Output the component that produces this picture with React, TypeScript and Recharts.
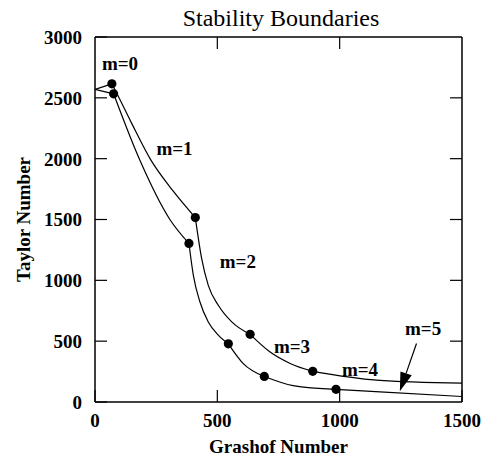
import React from "react";
import { ComposedChart, Line, Scatter, XAxis, YAxis, ReferenceLine } from "recharts";

const xTicks = [0, 500, 1000, 1500];
const yTicks = [0, 500, 1000, 1500, 2000, 2500, 3000];
const frameXTicks = [500, 1000];
const frameYTicks = [500, 1000, 1500, 2000, 2500];

// upper stability boundary
const upperBoundary = [
  { x: 0, y: 2570 }, { x: 69, y: 2615 }, { x: 91, y: 2530 }, { x: 150, y: 2290 },
  { x: 228, y: 1990 }, { x: 319, y: 1735 }, { x: 410, y: 1516 }, { x: 436, y: 1178 },
  { x: 463, y: 959 }, { x: 504, y: 795 }, { x: 559, y: 658 }, { x: 634, y: 556 },
  { x: 713, y: 415 }, { x: 800, y: 315 }, { x: 890, y: 252 }, { x: 1150, y: 180 },
  { x: 1500, y: 155 },
];
const upperDots = [
  { x: 69, y: 2615 }, { x: 410, y: 1516 }, { x: 634, y: 556 }, { x: 890, y: 252 },
];

// lower stability boundary
const lowerBoundary = [
  { x: 0, y: 2570 }, { x: 76, y: 2533 }, { x: 184, y: 1984 }, { x: 306, y: 1500 },
  { x: 384, y: 1303 }, { x: 402, y: 1041 }, { x: 429, y: 822 }, { x: 463, y: 658 },
  { x: 504, y: 549 }, { x: 545, y: 478 }, { x: 605, y: 318 }, { x: 692, y: 210 },
  { x: 810, y: 135 }, { x: 985, y: 104 }, { x: 1165, y: 84 }, { x: 1500, y: 45 },
];
const lowerDots = [
  { x: 76, y: 2533 }, { x: 384, y: 1303 }, { x: 545, y: 478 }, { x: 692, y: 210 }, { x: 985, y: 104 },
];

const modeLabels = [
  { x: 102, y: 2787, text: "m=0" },
  { x: 325, y: 2085, text: "m=1" },
  { x: 584, y: 1160, text: "m=2" },
  { x: 805, y: 459, text: "m=3" },
  { x: 1083, y: 270, text: "m=4" },
  { x: 1341, y: 610, text: "m=5" },
];

const arrowSegment = [{ x: 1314, y: 481 }, { x: 1246, y: 88 }];

const FONT = "'Liberation Serif', 'Times New Roman', serif";
const TICK_LEN = 12;
const GAP = 13;
const GAP_X = 12;

// break a boundary into one piece per mode, at the marked points
function splitAtDots(curve: { x: number; y: number }[], dots: { x: number }[]) {
  const stops = new Set(dots.map((d) => d.x));
  const parts: { x: number; y: number }[][] = [];
  let cur: { x: number; y: number }[] = [];
  curve.forEach((p) => {
    cur.push(p);
    if (stops.has(p.x) && cur.length > 1) {
      parts.push(cur);
      cur = [p];
    }
  });
  if (cur.length > 1) parts.push(cur);
  return parts;
}

const LeftTick = ({ x, y, payload }: any) => (
  <g>
    <line x1={x + GAP} x2={x + GAP + TICK_LEN} y1={y} y2={y} stroke="#000" strokeWidth={1.2} />
    <text x={x} y={y} dy="0.36em" textAnchor="end" fontFamily={FONT} fontWeight="bold" fontSize={19} fill="#000">
      {payload.value}
    </text>
  </g>
);

const BottomTick = ({ x, y, payload }: any) => (
  <g>
    <line x1={x} x2={x} y1={y - GAP_X} y2={y - GAP_X - TICK_LEN} stroke="#000" strokeWidth={1.2} />
    <text x={x} y={y} dy="0.71em" textAnchor="middle" fontFamily={FONT} fontWeight="bold" fontSize={19} fill="#000">
      {payload.value}
    </text>
  </g>
);

const TopTick = ({ x, y }: any) => (
  <line x1={x} x2={x} y1={y} y2={y + TICK_LEN} stroke="#000" strokeWidth={1.2} />
);

const RightTick = ({ x, y }: any) => (
  <line x1={x} x2={x - TICK_LEN} y1={y} y2={y} stroke="#000" strokeWidth={1.2} />
);

const Arrow = ({ x1, y1, x2, y2 }: any) => {
  const dx = x2 - x1;
  const dy = y2 - y1;
  const len = Math.sqrt(dx * dx + dy * dy) || 1;
  const ux = dx / len;
  const uy = dy / len;
  const bx = x2 - ux * 19;
  const by = y2 - uy * 19;
  const nx = -uy * 6;
  const ny = ux * 6;
  return (
    <g>
      <line x1={x1} y1={y1} x2={bx} y2={by} stroke="#000" strokeWidth={1.2} />
      <polygon points={`${x2},${y2} ${bx + nx},${by + ny} ${bx - nx},${by - ny}`} fill="#000" />
    </g>
  );
};

export default function App() {
  const upperParts = splitAtDots(upperBoundary, upperDots);
  const lowerParts = splitAtDots(lowerBoundary, lowerDots);

  return (
    <div style={{ position: "absolute", left: 0, top: 0, width: 492, height: 458, background: "#fff" }}>
      <svg width={492} height={32} style={{ position: "absolute", left: 0, top: 0 }}>
        <text x={281} y={26} textAnchor="middle" fontFamily={FONT} fontSize={24} fill="#000">
          Stability Boundaries
        </text>
      </svg>
      <ComposedChart width={492} height={458} margin={{ top: 36, right: 29, bottom: 0, left: 0 }}>
        <XAxis
          dataKey="x"
          type="number"
          domain={[0, 1500]}
          ticks={xTicks}
          interval={0}
          allowDataOverflow
          height={56}
          tickSize={0}
          tickMargin={GAP_X}
          tickLine={false}
          axisLine={{ stroke: "#000", strokeWidth: 1.5 }}
          tick={BottomTick}
          label={(props: any) => {
            const vb = props.viewBox;
            return (
              <text x={vb.x + vb.width / 2} y={453} textAnchor="middle" fontFamily={FONT} fontWeight="bold" fontSize={19} fill="#000">
                Grashof Number
              </text>
            );
          }}
        />
        <XAxis
          xAxisId="top"
          orientation="top"
          dataKey="x"
          type="number"
          domain={[0, 1500]}
          ticks={frameXTicks}
          interval={0}
          allowDataOverflow
          height={1}
          tickSize={0}
          tickMargin={0}
          tickLine={false}
          axisLine={{ stroke: "#000", strokeWidth: 1.5 }}
          tick={TopTick}
        />
        <YAxis
          dataKey="y"
          type="number"
          domain={[0, 3000]}
          ticks={yTicks}
          interval={0}
          allowDataOverflow
          width={95}
          tickSize={0}
          tickMargin={GAP}
          tickLine={false}
          axisLine={{ stroke: "#000", strokeWidth: 1.5 }}
          tick={LeftTick}
          label={(props: any) => {
            const vb = props.viewBox;
            const cx = 23;
            const cy = vb.y + vb.height / 2;
            return (
              <text x={cx} y={cy} dy="0.36em" transform={`rotate(-90 ${cx} ${cy})`} textAnchor="middle" fontFamily={FONT} fontWeight="bold" fontSize={19} fill="#000">
                Taylor Number
              </text>
            );
          }}
        />
        <YAxis
          yAxisId="right"
          orientation="right"
          dataKey="y"
          type="number"
          domain={[0, 3000]}
          ticks={frameYTicks}
          interval={0}
          allowDataOverflow
          width={1}
          tickSize={0}
          tickMargin={0}
          tickLine={false}
          axisLine={{ stroke: "#000", strokeWidth: 1.5 }}
          tick={RightTick}
        />

        {upperParts.map((seg, i) => (
          <Line key={`u${i}`} data={seg} dataKey="y" type="monotone" dot={false} stroke="#000" strokeWidth={1.2} isAnimationActive={false} />
        ))}
        {lowerParts.map((seg, i) => (
          <Line key={`l${i}`} data={seg} dataKey="y" type="monotone" dot={false} stroke="#000" strokeWidth={1.2} isAnimationActive={false} />
        ))}

        <Scatter data={upperDots} dataKey="y" isAnimationActive={false} shape={(p: any) => <circle cx={p.cx} cy={p.cy} r={4.6} fill="#000" />} />
        <Scatter data={lowerDots} dataKey="y" isAnimationActive={false} shape={(p: any) => <circle cx={p.cx} cy={p.cy} r={4.6} fill="#000" />} />
        <Scatter
          data={modeLabels}
          dataKey="y"
          isAnimationActive={false}
          shape={(p: any) => (
            <text x={p.cx} y={p.cy} dy="0.36em" textAnchor="middle" fontFamily={FONT} fontWeight="bold" fontSize={19} fill="#000">
              {p.payload.text}
            </text>
          )}
        />

        <ReferenceLine segment={arrowSegment} shape={(p: any) => <Arrow {...p} />} />
      </ComposedChart>
    </div>
  );
}
